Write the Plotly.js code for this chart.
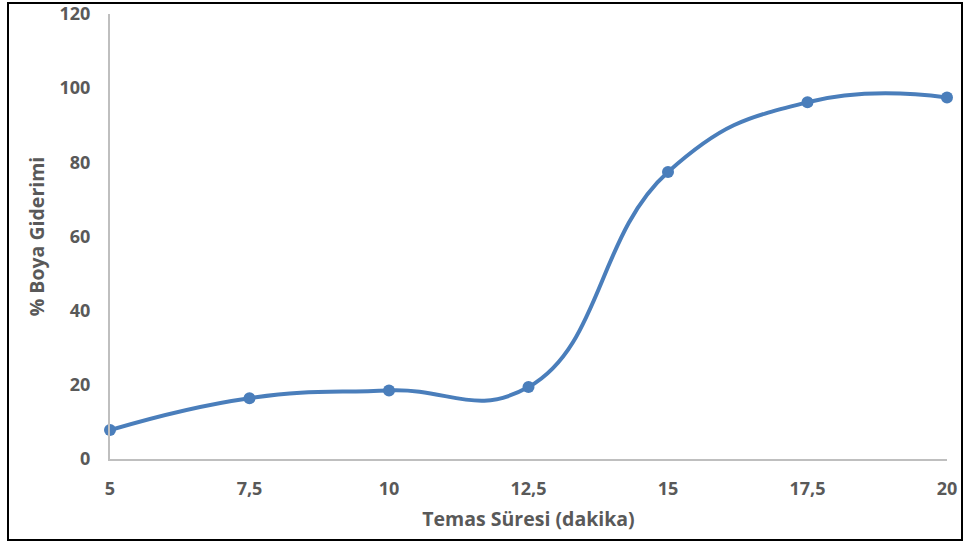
<!DOCTYPE html>
<html><head><meta charset="utf-8">
<script src="https://cdn.plot.ly/plotly-3.0.1.min.js"></script>
<style>
html,body{margin:0;padding:0;background:#fff;}
#chart{width:963px;height:544px;}
#frame{position:absolute;left:7px;top:2px;width:952px;height:535px;border:2px solid #000;pointer-events:none;}
</style></head>
<body>
<div id="chart"></div>
<div id="frame"></div>
<script>
const temasSuresi = [5, 7.5, 10, 12.5, 15, 17.5, 20];
const boyaGiderimi = [7.8, 16.4, 18.5, 19.4, 77.4, 96.2, 97.5];
const xTickVals = [5, 7.5, 10, 12.5, 15, 17.5, 20];
const xTickText = ['5', '7,5', '10', '12,5', '15', '17,5', '20'];
const yTickVals = [0, 20, 40, 60, 80, 100, 120];

const fontFam = '"Open Sans", sans-serif';
const trace = {
  x: temasSuresi, y: boyaGiderimi,
  type: 'scatter', mode: 'lines+markers', cliponaxis: false,
  line: {color: '#4a7ebb', width: 4, shape: 'spline', smoothing: 1.3},
  marker: {color: '#4a7ebb', size: 12},
  hoverinfo: 'x+y'
};
const layout = {
  width: 963, height: 544,
  margin: {l: 110, r: 16, t: 14, b: 85},
  paper_bgcolor: '#fff', plot_bgcolor: '#fff',
  showlegend: false,
  font: {family: fontFam, color: '#595959'},
  xaxis: {
    range: [5, 20], tickvals: xTickVals, ticktext: xTickText,
    showgrid: false, zeroline: false, showline: true, linecolor: '#bfbfbf', linewidth: 2,
    ticks: '', ticklabelstandoff: 12,
    tickfont: {size: 18, family: fontFam, color: '#595959', weight: 'bold'},
    title: {text: 'Temas Süresi (dakika)', font: {size: 19.5, family: fontFam, color: '#595959', weight: 'bold'}, standoff: 14}
  },
  yaxis: {
    range: [0, 120], tickvals: yTickVals,
    showgrid: false, zeroline: false, showline: true, linecolor: '#bfbfbf', linewidth: 2,
    ticks: '', ticklabelstandoff: 14,
    tickfont: {size: 18, family: fontFam, color: '#595959', weight: 'bold'},
    title: {text: '% Boya Giderimi', font: {size: 19.5, family: fontFam, color: '#595959', weight: 'bold'}, standoff: 10}
  }
};
Plotly.newPlot('chart', [trace], layout, {displayModeBar: false});
</script>
</body></html>
